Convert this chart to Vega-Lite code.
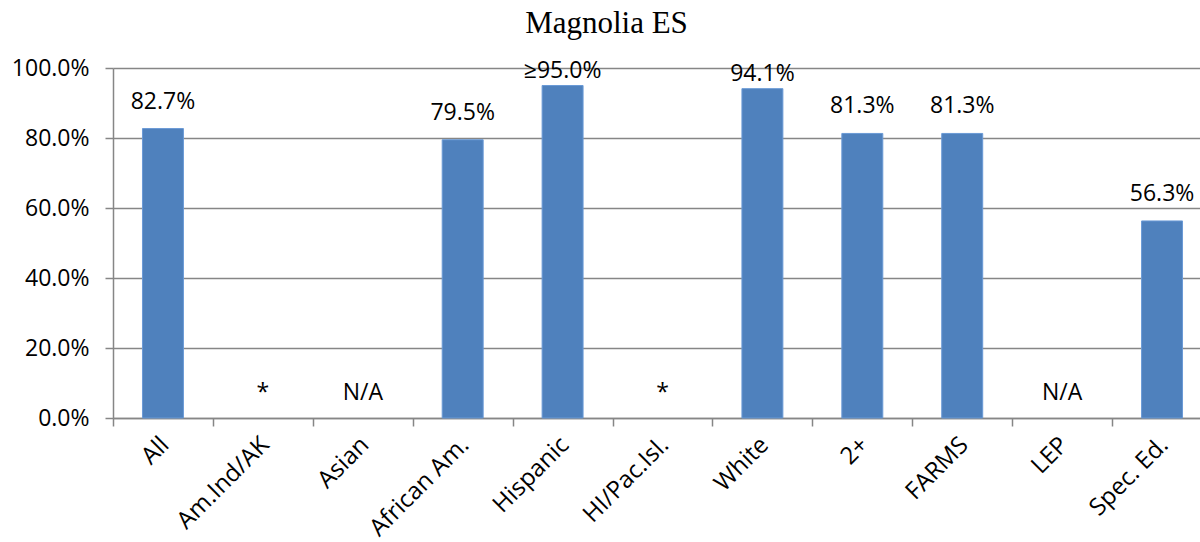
{
  "$schema": "https://vega.github.io/schema/vega-lite/v6.json",
  "autosize": "none",
  "width": 1087,
  "height": 350,
  "padding": {"left": 113, "top": 68, "right": 0, "bottom": 124},
  "background": "white",
  "title": {
    "text": "Magnolia ES",
    "font": "Liberation Serif",
    "fontSize": 31,
    "fontWeight": "normal",
    "color": "black",
    "anchor": "middle",
    "dx": -50,
    "offset": 17
  },
  "config": {
    "view": {"stroke": null},
    "axis": {
      "labelFont": "Open Sans",
      "labelFontSize": 23,
      "labelColor": "black",
      "domainColor": "#868686",
      "tickColor": "#868686",
      "gridColor": "#868686",
      "domainWidth": 1.5,
      "tickWidth": 1.5,
      "gridWidth": 1.5,
      "tickSize": 8,
      "title": null
    }
  },
  "data": {
    "values": [
      {"group": "All", "value": 0.827, "label": "82.7%"},
      {"group": "Am.Ind/AK", "value": null, "label": "*"},
      {"group": "Asian", "value": null, "label": "N/A"},
      {"group": "African Am.", "value": 0.795, "label": "79.5%"},
      {"group": "Hispanic", "value": 0.95, "label": "≥95.0%"},
      {"group": "HI/Pac.Isl.", "value": null, "label": "*"},
      {"group": "White", "value": 0.941, "label": "94.1%"},
      {"group": "2+", "value": 0.813, "label": "81.3%"},
      {"group": "FARMS", "value": 0.813, "label": "81.3%"},
      {"group": "LEP", "value": null, "label": "N/A"},
      {"group": "Spec. Ed.", "value": 0.563, "label": "56.3%"}
    ]
  },
  "encoding": {
    "x": {
      "field": "group",
      "type": "nominal",
      "sort": null,
      "scale": {
        "domain": ["All", "Am.Ind/AK", "Asian", "African Am.", "Hispanic", "HI/Pac.Isl.", "White", "2+", "FARMS", "LEP", "Spec. Ed."],
        "paddingInner": 0,
        "paddingOuter": 0,
        "range": [0, 1099]
      },
      "axis": {
        "labelAngle": -45,
        "labelAlign": "right",
        "labelBaseline": "middle",
        "labelPadding": 15,
        "labelOffset": 2,
        "labelFontSize": 24,
        "tickBand": "extent",
        "grid": false
      }
    }
  },
  "layer": [
    {
      "mark": {"type": "bar", "width": {"band": 0.41}, "color": "#4F81BD", "stroke": "#6A9AD6", "strokeWidth": 1},
      "encoding": {
        "y": {
          "field": "value",
          "type": "quantitative",
          "scale": {"domain": [0, 1], "nice": false},
          "axis": {
            "format": ".1%",
            "values": [0, 0.2, 0.4, 0.6, 0.8, 1.0],
            "labelPadding": 16,
            "grid": true
          }
        }
      }
    },
    {
      "transform": [{"filter": "isValid(datum.value) && datum.value < 0.9"}],
      "mark": {"type": "text", "font": "Open Sans", "fontSize": 23, "color": "black", "baseline": "middle", "dy": -27},
      "encoding": {
        "y": {"field": "value", "type": "quantitative"},
        "text": {"field": "label"}
      }
    },
    {
      "transform": [{"filter": "isValid(datum.value) && datum.value >= 0.9"}],
      "mark": {"type": "text", "font": "Open Sans", "fontSize": 23, "color": "black", "baseline": "middle", "dy": -15},
      "encoding": {
        "y": {"field": "value", "type": "quantitative"},
        "text": {"field": "label"}
      }
    },
    {
      "transform": [{"filter": "!isValid(datum.value)"}],
      "mark": {"type": "text", "font": "Open Sans", "fontSize": 23, "color": "black", "baseline": "middle", "dy": -25},
      "encoding": {
        "y": {"datum": 0, "type": "quantitative"},
        "text": {"field": "label"}
      }
    }
  ]
}
